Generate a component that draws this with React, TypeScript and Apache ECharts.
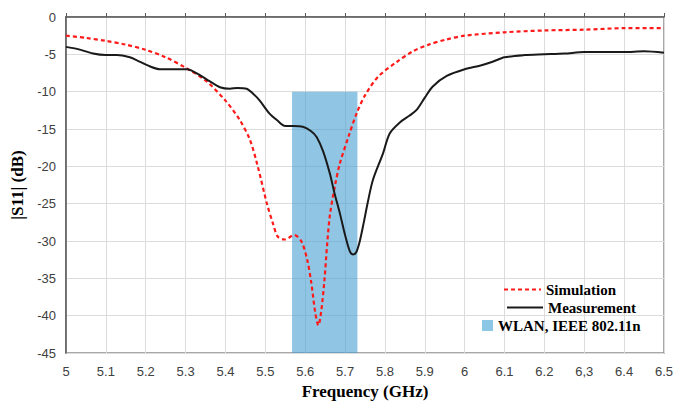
import React, { useEffect, useRef } from "react";
import * as echarts from "echarts";

const xTickLabels = ["5", "5.1", "5.2", "5.3", "5.4", "5.5", "5.6", "5.7", "5.8", "5.9", "6", "6.1", "6.2", "6,3", "6.4", "6.5"];

const simFreq = [5.0, 5.05, 5.1, 5.15, 5.2, 5.25, 5.3, 5.35, 5.4, 5.436, 5.461, 5.48, 5.504, 5.52, 5.531, 5.548, 5.573, 5.59, 5.605, 5.615, 5.625, 5.633, 5.64, 5.648, 5.655, 5.662, 5.675, 5.687, 5.71, 5.729, 5.75, 5.783, 5.83, 5.87, 5.91, 5.955, 6.0, 6.1, 6.2, 6.3, 6.4, 6.5];
const simS11 = [-2.5, -2.8, -3.2, -3.7, -4.4, -5.4, -6.8, -8.5, -11.2, -13.8, -16.4, -19.8, -25.0, -27.8, -29.4, -29.8, -29.2, -30.0, -32.5, -35.5, -39.5, -41.3, -39.5, -35.4, -30.5, -26.5, -22.5, -19.6, -15.8, -12.9, -10.5, -8.0, -6.0, -4.6, -3.7, -3.0, -2.5, -2.05, -1.8, -1.7, -1.5, -1.5];

const measFreq = [5.0, 5.03, 5.068, 5.1, 5.128, 5.16, 5.178, 5.21, 5.236, 5.27, 5.303, 5.336, 5.36, 5.386, 5.411, 5.43, 5.453, 5.47, 5.486, 5.51, 5.529, 5.55, 5.57, 5.594, 5.615, 5.629, 5.645, 5.662, 5.673, 5.687, 5.7, 5.712, 5.72, 5.728, 5.737, 5.747, 5.757, 5.77, 5.795, 5.812, 5.838, 5.862, 5.88, 5.9, 5.92, 5.955, 6.0, 6.04, 6.07, 6.1, 6.15, 6.2, 6.25, 6.3, 6.4, 6.45, 6.5];
const measS11 = [-4.0, -4.3, -4.9, -5.1, -5.1, -5.4, -5.8, -6.6, -7.0, -7.0, -7.0, -7.8, -8.6, -9.4, -9.6, -9.5, -9.6, -10.3, -11.2, -12.9, -13.8, -14.6, -14.6, -14.7, -15.3, -16.1, -18.0, -21.0, -23.5, -26.3, -29.2, -31.4, -31.8, -31.5, -30.0, -27.5, -24.8, -21.8, -18.3, -15.6, -14.1, -13.2, -12.4, -10.8, -9.3, -7.9, -7.0, -6.5, -6.0, -5.4, -5.1, -5.0, -4.9, -4.7, -4.7, -4.6, -4.8];

const wlanBand = [5.567, 5.731];
const wlanTop = -10;

const serif = "'Liberation Serif', 'Times New Roman', serif";
const sans = "'Liberation Sans', Arial, sans-serif";

export default function App() {
  const ref = useRef<HTMLDivElement>(null);
  useEffect(() => {
    if (!ref.current) return;
    const chart = echarts.init(ref.current, null, { renderer: "svg" });
    const legendText = { fontFamily: serif, fontWeight: "bold", fontSize: 15, color: "#000" };
    chart.setOption({
      animation: false,
      backgroundColor: "#fff",
      grid: { left: 66, right: 25, top: 17, bottom: 55, show: true, borderColor: "#8c8c8c", borderWidth: 1.5 },
      legend: [
        {
          data: [{ name: "Simulation", itemStyle: { opacity: 0 } }],
          left: 503, top: 282, itemWidth: 37, itemHeight: 12, textStyle: legendText, padding: 0,
        },
        {
          data: [{ name: "Measurement", itemStyle: { opacity: 0 } }],
          left: 506, top: 300, itemWidth: 36, itemHeight: 12, textStyle: legendText, padding: 0,
        },
        {
          data: [{ name: "WLAN, IEEE 802.11n", icon: "rect", itemStyle: { color: "rgb(140,200,230)" } }],
          left: 482, top: 318, itemWidth: 11, itemHeight: 11, textStyle: legendText, padding: 0,
        },
      ],
      xAxis: {
        type: "value",
        min: 5,
        max: 6.5,
        interval: 0.1,
        name: "Frequency (GHz)",
        nameLocation: "middle",
        nameGap: 30,
        nameTextStyle: { fontFamily: serif, fontWeight: "bold", fontSize: 17, color: "#000" },
        axisLine: { show: true, lineStyle: { color: "#595959", width: 1.5 } },
        axisTick: { show: true, inside: true, length: 4, lineStyle: { color: "#595959" } },
        axisLabel: {
          fontFamily: sans, fontSize: 13, color: "#404040", margin: 12,
          formatter: (v: number) => xTickLabels[Math.round((v - 5) * 10)] ?? "",
        },
        splitLine: { show: true, lineStyle: { color: "#dcdcdc", width: 1 } },
      },
      yAxis: {
        type: "value",
        min: -45,
        max: 0,
        interval: 5,
        name: "|S11| (dB)",
        nameLocation: "middle",
        nameGap: 40,
        nameRotate: 90,
        nameTextStyle: { fontFamily: serif, fontWeight: "bold", fontSize: 17, color: "#000" },
        axisLine: { show: true, lineStyle: { color: "#595959", width: 1.5 } },
        axisTick: { show: false },
        axisLabel: { fontFamily: sans, fontSize: 13, color: "#404040", margin: 10 },
        splitLine: { show: true, lineStyle: { color: "#dcdcdc", width: 1 } },
      },
      series: [
        {
          name: "Simulation",
          type: "line",
          symbol: "none",
          smooth: 0.3,
          data: simFreq.map((f, i) => [f, simS11[i]]),
          lineStyle: { color: "#ff1a1a", width: 2.2, type: [4, 3] },
          itemStyle: { color: "#ff1a1a" },
          z: 3,
        },
        {
          name: "Measurement",
          type: "line",
          symbol: "none",
          smooth: 0.3,
          data: measFreq.map((f, i) => [f, measS11[i]]),
          lineStyle: { color: "#1a1a1a", width: 2 },
          itemStyle: { color: "#1a1a1a" },
          z: 3,
        },
        {
          name: "WLAN, IEEE 802.11n",
          type: "line",
          symbol: "none",
          data: [],
          itemStyle: { color: "rgb(140,200,230)" },
          z: 5,
          markArea: {
            silent: true,
            itemStyle: { color: "rgba(70,160,210,0.6)" },
            data: [[{ xAxis: wlanBand[0], yAxis: wlanTop }, { xAxis: wlanBand[1], yAxis: -45 }]],
          },
        },
      ],
    });
    return () => chart.dispose();
  }, []);
  return <div ref={ref} style={{ width: 689, height: 408, position: "absolute", left: 0, top: 0 }} />;
}
